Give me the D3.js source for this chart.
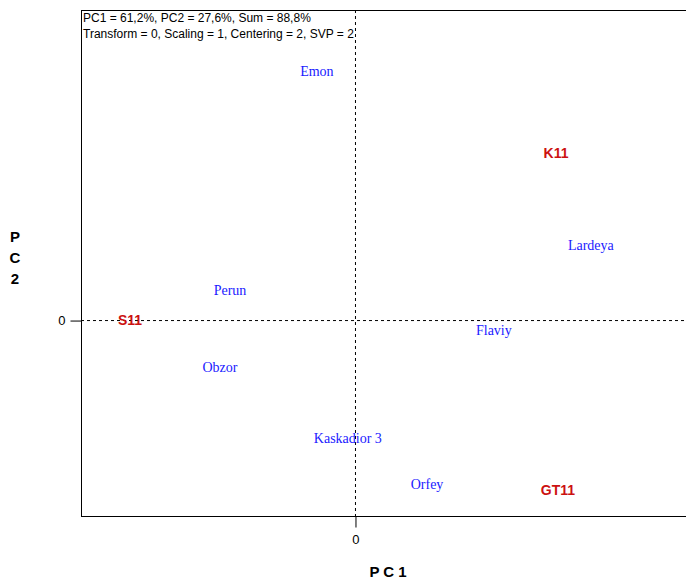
<!DOCTYPE html>
<html>
<head>
<meta charset="utf-8">
<script src="https://cdn.jsdelivr.net/npm/d3@7"></script>
<style>
  html, body { margin: 0; padding: 0; background: #fff; }
  svg { display: block; }
</style>
</head>
<body>
<script>
// Genotype entries (blue) and environment / tester entries (red) on PC1 vs PC2
const genotypes = ["Emon", "Lardeya", "Perun", "Flaviy", "Obzor", "Kaskadior 3", "Orfey"];
const genoPC1 = [-0.139, 0.861, -0.456, 0.507, -0.493, -0.026, 0.263];
const genoPC2 = [0.803, 0.242, 0.097, -0.032, -0.152, -0.381, -0.529];

const testers = ["K11", "S11", "GT11"];
const testPC1 = [0.734, -0.821, 0.741];
const testPC2 = [0.539, 0.0, -0.548];

const headerLines = [
  "PC1 = 61,2%, PC2 = 27,6%, Sum = 88,8%",
  "Transform = 0, Scaling = 1, Centering = 2, SVP = 2"
];
const xTicks = [0];
const yTicks = [0];

const W = 686, H = 579;
const plot = { left: 81, top: 10, right: 698, bottom: 516 };

const svg = d3.select("body").append("svg")
  .attr("width", W).attr("height", H);

const x = d3.scaleLinear().domain([-1, 1.252]).range([plot.left, plot.right]);
const y = d3.scaleLinear().domain([-0.632, 1.0]).range([plot.bottom, plot.top]);

// frame
svg.append("rect")
  .attr("x", plot.left + 0.5).attr("y", plot.top + 0.5)
  .attr("width", plot.right - plot.left).attr("height", plot.bottom - plot.top)
  .attr("fill", "none").attr("stroke", "#000").attr("stroke-width", 1);

// dashed zero lines
svg.append("line")
  .attr("x1", x(0) + 0.5).attr("x2", x(0) + 0.5)
  .attr("y1", plot.top).attr("y2", plot.bottom)
  .attr("stroke", "#000").attr("stroke-dasharray", "3,3");
svg.append("line")
  .attr("x1", plot.left).attr("x2", plot.right)
  .attr("y1", y(0) + 0.5).attr("y2", y(0) + 0.5)
  .attr("stroke", "#000").attr("stroke-dasharray", "3,3");

// axes with only the zero tick
const xAxis = d3.axisBottom(x).tickValues(xTicks).tickSize(11).tickPadding(7).tickFormat(d3.format("d"));
const yAxis = d3.axisLeft(y).tickValues(yTicks).tickSize(11).tickPadding(5).tickFormat(d3.format("d"));

const gx = svg.append("g").attr("transform", `translate(0.5,${plot.bottom + 0.5})`).call(xAxis);
const gy = svg.append("g").attr("transform", `translate(${plot.left + 0.5},0.5)`).call(yAxis);
[gx, gy].forEach(g => {
  g.select(".domain").remove();
  g.selectAll("line").attr("stroke", "#000");
  g.selectAll("text").attr("font-family", "Liberation Sans, Arial, sans-serif")
    .attr("font-size", 13).attr("fill", "#000");
});

// axis titles
svg.append("text")
  .attr("x", 388).attr("y", 577)
  .attr("text-anchor", "middle")
  .attr("font-family", "Liberation Sans, Arial, sans-serif")
  .attr("font-size", 15).attr("font-weight", "bold")
  .text("P C 1");

["P", "C", "2"].forEach((ch, i) => {
  svg.append("text")
    .attr("x", 15).attr("y", 242 + i * 21)
    .attr("text-anchor", "middle")
    .attr("font-family", "Liberation Sans, Arial, sans-serif")
    .attr("font-size", 15).attr("font-weight", "bold")
    .text(ch);
});

// header text
headerLines.forEach((t, i) => {
  svg.append("text")
    .attr("x", 83).attr("y", 22 + i * 16)
    .attr("font-family", "Liberation Sans, Arial, sans-serif")
    .attr("font-size", 12).attr("fill", "#000")
    .text(t);
});

// genotype labels
svg.append("g").selectAll("text")
  .data(genotypes.map((n, i) => ({ n, px: genoPC1[i], py: genoPC2[i] })))
  .join("text")
  .attr("x", d => x(d.px)).attr("y", d => y(d.py))
  .attr("dy", "0.35em")
  .attr("text-anchor", "middle")
  .attr("font-family", "Liberation Serif, Times New Roman, serif")
  .attr("font-size", 14).attr("fill", "#1a1aff")
  .text(d => d.n);

// tester labels
svg.append("g").selectAll("text")
  .data(testers.map((n, i) => ({ n, px: testPC1[i], py: testPC2[i] })))
  .join("text")
  .attr("x", d => x(d.px)).attr("y", d => y(d.py))
  .attr("dy", "0.35em")
  .attr("text-anchor", "middle")
  .attr("font-family", "Liberation Sans, Arial, sans-serif")
  .attr("font-size", 14).attr("font-weight", "bold").attr("fill", "#cc1111")
  .text(d => d.n);
</script>
</body>
</html>
